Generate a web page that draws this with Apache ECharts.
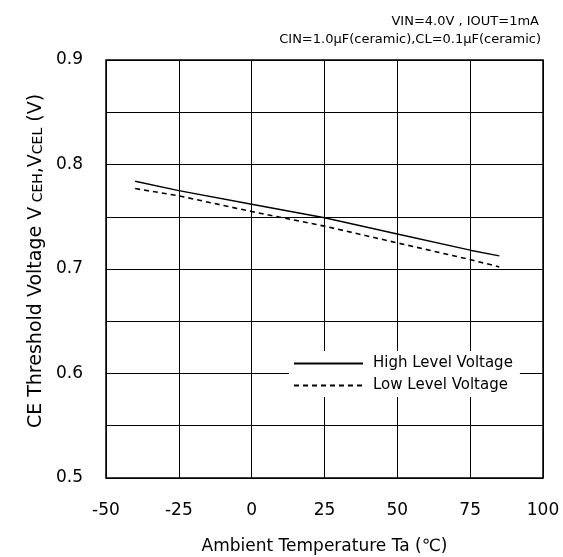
<!DOCTYPE html>
<html>
<head>
<meta charset="utf-8">
<script src="https://cdn.jsdelivr.net/npm/echarts@6/dist/echarts.min.js"></script>
<style>
html,body{margin:0;padding:0;background:#fff;}
#c{width:563px;height:557px;}
</style>
</head>
<body>
<div id="c"></div>
<script>
var temps = [-40, -25, 0, 25, 50, 75, 85];
var highLevel = [0.784, 0.775, 0.762, 0.749, 0.7335, 0.718, 0.7125];
var lowLevel = [0.777, 0.770, 0.755, 0.741, 0.725, 0.709, 0.702];
var seriesNames = ['High Level Voltage', 'Low Level Voltage'];
var xTitle = 'Ambient Temperature Ta (℃)';
var condLine1 = 'VIN=4.0V , IOUT=1mA';
var condLine2 = 'CIN=1.0μF(ceramic),CL=0.1μF(ceramic)';

function pairs(xs, ys){ return xs.map(function(x,i){ return [x, ys[i]]; }); }

var FONT = 'DejaVu Sans';
var chart = echarts.init(document.getElementById('c'));
chart.setOption({
  backgroundColor: '#fff',
  animation: false,
  grid: { left: 106, top: 60, width: 437, height: 418, outerBoundsMode: 'none', containLabel: false,
    show: true, borderColor: '#000', borderWidth: 1.5, backgroundColor: 'transparent' },
  xAxis: {
    type: 'value', min: -50, max: 100, interval: 25,
    name: xTitle, nameLocation: 'middle', nameGap: 60,
    nameTextStyle: { fontFamily: FONT, fontSize: 17, color: '#000' },
    axisLine: { show: false }, axisTick: { show: false },
    axisLabel: { fontFamily: FONT, fontSize: 17, color: '#000', margin: 24 },
    splitLine: { show: true, lineStyle: { color: '#000', width: 1 } }
  },
  yAxis: {
    type: 'value', min: 0.5, max: 0.9, interval: 0.05,
    axisLine: { show: false }, axisTick: { show: false },
    axisLabel: { fontFamily: FONT, fontSize: 17, color: '#000', margin: 23,
      formatter: function(v){ return (Math.round(v*100) % 10 === 0) ? v.toFixed(1) : ''; } },
    splitLine: { show: true, lineStyle: { color: '#000', width: 1 } }
  },
  legend: {
    orient: 'vertical', left: 289, top: 351,
    backgroundColor: '#fff',
    padding: [5, 7, 4, 4],
    itemWidth: 69, itemHeight: 14, itemGap: 7,
    itemStyle: { opacity: 0, borderWidth: 0 },
    textStyle: { fontFamily: FONT, fontSize: 15, color: '#000', padding: [0, 0, 0, 5] },
    data: seriesNames
  },
  graphic: [
    { type: 'text', right: 24, top: 15, style: { text: condLine1, fontFamily: FONT, fontSize: 13, fill: '#000' } },
    { type: 'text', right: 22, top: 33, style: { text: condLine2, fontFamily: FONT, fontSize: 13, fill: '#000' } },
    { type: 'text', x: 36, y: 261, rotation: Math.PI/2,
      style: {
        text: '{a|CE Threshold Voltage V}{s| CEH}{a|,V}{s|CEL}{a| (V)}',
        align: 'center', verticalAlign: 'middle',
        rich: {
          a: { fontFamily: FONT, fontSize: 19, fill: '#000', verticalAlign: 'bottom' },
          s: { fontFamily: FONT, fontSize: 14, fill: '#000', verticalAlign: 'bottom' }
        }
      } }
  ],
  series: [
    { name: seriesNames[0], type: 'line', data: pairs(temps, highLevel), symbol: 'none',
      lineStyle: { color: '#000', width: 1.4, type: 'solid' }, itemStyle: { color: '#000' } },
    { name: seriesNames[1], type: 'line', data: pairs(temps, lowLevel), symbol: 'none',
      lineStyle: { color: '#000', width: 1.6, type: [5, 4] }, itemStyle: { color: '#000' } }
  ]
});
</script>
</body>
</html>
